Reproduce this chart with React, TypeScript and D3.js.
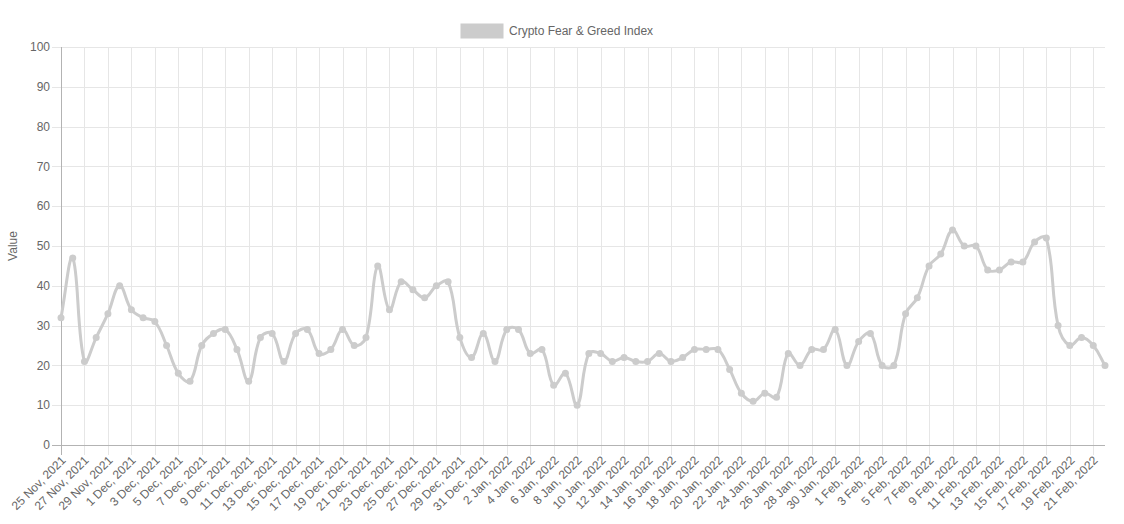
import React from "react";
import * as d3 from "d3";

const startDate = new Date(2021, 10, 25);
const values: number[] = [
  32, 47, 21, 27, 33, 40, 34, 32, 31, 25, 18, 16, 25, 28, 29, 24, 16, 27, 28, 21,
  28, 29, 23, 24, 29, 25, 27, 45, 34, 41, 39, 37, 40, 41, 27, 22, 28, 21, 29, 29,
  23, 24, 15, 18, 10, 23, 23, 21, 22, 21, 21, 23, 21, 22, 24, 24, 24, 19, 13, 11,
  13, 12, 23, 20, 24, 24, 29, 20, 26, 28, 20, 20, 33, 37, 45, 48, 54, 50, 50, 44,
  44, 46, 46, 51, 52, 30, 25, 27, 25, 20,
];
const monthNames = ["Jan", "Feb", "Mar", "Apr", "May", "Jun", "Jul", "Aug", "Sep", "Oct", "Nov", "Dec"];
const labels: string[] = values.map((_, i) => {
  const d = new Date(startDate.getFullYear(), startDate.getMonth(), startDate.getDate() + i);
  return `${d.getDate()} ${monthNames[d.getMonth()]}, ${d.getFullYear()}`;
});
const yTicks: number[] = [0, 10, 20, 30, 40, 50, 60, 70, 80, 90, 100];
const seriesName = "Crypto Fear & Greed Index";

const W = 1124;
const H = 524;
const left = 61;
const right = 1105;
const top = 47;
const bottom = 445;
const FONT = "'Liberation Sans', Arial, Helvetica, sans-serif";
const TEXT = "#666";
const GRID = "#e6e6e6";
const AXIS = "#b3b3b3";
const LINE = "#cccccc";

function chartJsSpline(pts: [number, number][], tension: number): string {
  const p = d3.path();
  const n = pts.length;
  const cps: { pX: number; pY: number; nX: number; nY: number }[] = [];
  for (let i = 0; i < n; i++) {
    const prev = pts[Math.max(0, i - 1)];
    const cur = pts[i];
    const next = pts[Math.min(n - 1, i + 1)];
    const d01 = Math.hypot(cur[0] - prev[0], cur[1] - prev[1]);
    const d12 = Math.hypot(next[0] - cur[0], next[1] - cur[1]);
    let s01 = d01 / (d01 + d12);
    let s12 = d12 / (d01 + d12);
    s01 = isNaN(s01) ? 0 : s01;
    s12 = isNaN(s12) ? 0 : s12;
    const fa = tension * s01;
    const fb = tension * s12;
    const clampX = (v: number) => Math.max(left, Math.min(right, v));
    const clampY = (v: number) => Math.max(top, Math.min(bottom, v));
    cps.push({
      pX: clampX(cur[0] - fa * (next[0] - prev[0])),
      pY: clampY(cur[1] - fa * (next[1] - prev[1])),
      nX: clampX(cur[0] + fb * (next[0] - prev[0])),
      nY: clampY(cur[1] + fb * (next[1] - prev[1])),
    });
  }
  p.moveTo(pts[0][0], pts[0][1]);
  for (let i = 1; i < n; i++) {
    p.bezierCurveTo(cps[i - 1].nX, cps[i - 1].nY, cps[i].pX, cps[i].pY, pts[i][0], pts[i][1]);
  }
  return p.toString();
}

export default function App() {
  const x = d3.scalePoint<number>().domain(values.map((_, i) => i)).range([left, right]);
  const y = d3.scaleLinear().domain([0, 100]).range([bottom, top]);
  const pts: [number, number][] = values.map((v, i) => [x(i) as number, y(v)]);
  const path = chartJsSpline(pts, 0.4);
  const xTickIdx = values.map((_, i) => i).filter((i) => i % 2 === 0);

  return (
    <svg
      width={W}
      height={H}
      style={{ position: "absolute", left: 0, top: 0, background: "#fff" }}
      fontFamily={FONT}
    >
      {/* horizontal grid */}
      {yTicks.map((t) => (
        <g key={"y" + t}>
          <line x1={left - 9} x2={right} y1={Math.round(y(t)) + 0.5} y2={Math.round(y(t)) + 0.5} stroke={t === 0 ? AXIS : GRID} strokeWidth={1} />
          <text x={left - 11} y={y(t)} dy="0.35em" textAnchor="end" fontSize={12} fill={TEXT}>
            {t}
          </text>
        </g>
      ))}
      {/* vertical grid */}
      {xTickIdx.map((i) => {
        const xp = Math.round(x(i) as number) + 0.5;
        return (
          <g key={"x" + i}>
            <line x1={xp} x2={xp} y1={top} y2={bottom + 10} stroke={i === 0 ? AXIS : GRID} strokeWidth={1} />
            <text
              transform={`translate(${xp + 2},${bottom + 13}) rotate(-45)`}
              textAnchor="end"
              dy="0.35em"
              fontSize={12}
              fill={TEXT}
            >
              {labels[i]}
            </text>
          </g>
        );
      })}
      <line x1={left + 0.5} x2={left + 0.5} y1={top} y2={bottom} stroke={AXIS} strokeWidth={1} />
      <line x1={left} x2={right} y1={bottom + 0.5} y2={bottom + 0.5} stroke={AXIS} strokeWidth={1} />
      {/* y title */}
      <text transform={`translate(13,${(top + bottom) / 2}) rotate(-90)`} dy="0.35em" textAnchor="middle" fontSize={12} fill={TEXT}>
        Value
      </text>
      {/* legend */}
      <rect x={461} y={24} width={42} height={14} fill="#cccccc" stroke="#cccccc" strokeWidth={1} />
      <text x={509} y={31} dy="0.35em" fontSize={12} fill={TEXT}>
        {seriesName}
      </text>
      {/* line */}
      <path d={path} fill="none" stroke={LINE} strokeWidth={3} strokeLinejoin="round" />
      {pts.map((pt, i) => (
        <circle key={"p" + i} cx={pt[0]} cy={pt[1]} r={3.5} fill={LINE} />
      ))}
    </svg>
  );
}
